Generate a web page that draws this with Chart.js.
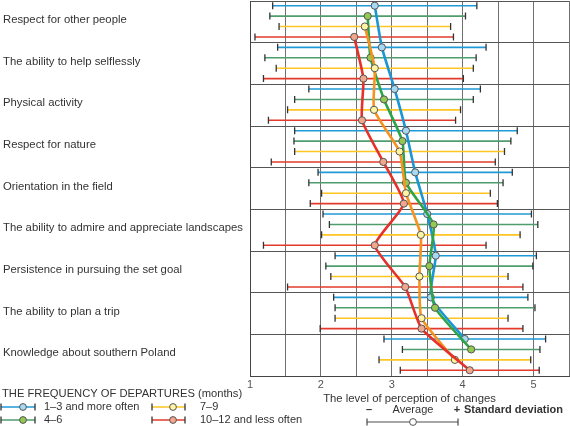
<!DOCTYPE html>
<html>
<head>
<meta charset="utf-8">
<script src="https://cdn.jsdelivr.net/npm/chart.js@4.4.0/dist/chart.umd.min.js"></script>
<style>
html,body{margin:0;padding:0;background:#fff;}
#wrap{width:570px;height:426px;position:relative;}
</style>
</head>
<body>
<div id="wrap"><canvas id="c" width="570" height="426"></canvas></div>
<script>
const categories = [
  "Respect for other people",
  "The ability to help selflessly",
  "Physical activity",
  "Respect for nature",
  "Orientation in the field",
  "The ability to admire and appreciate landscapes",
  "Persistence in pursuing the set goal",
  "The ability to plan a trip",
  "Knowledge about southern Poland"
];
const seriesNames = ["1–3 and more often", "4–6", "7–9", "10–12 and less often"];
const meanBlue   = [2.76, 2.86, 3.04, 3.20, 3.33, 3.50, 3.62, 3.55, 4.03];
const sdBlue     = [1.44, 1.47, 1.21, 1.57, 1.37, 1.47, 1.42, 1.37, 1.14];
const meanGreen  = [2.66, 2.70, 2.89, 3.15, 3.20, 3.59, 3.53, 3.61, 4.12];
const sdGreen    = [1.38, 1.49, 1.26, 1.53, 1.37, 1.47, 1.46, 1.41, 0.97];
const meanYellow = [2.62, 2.76, 2.75, 3.11, 3.20, 3.41, 3.39, 3.42, 3.89];
const sdYellow   = [1.21, 1.39, 1.22, 1.48, 1.19, 1.40, 1.25, 1.22, 1.07];
const meanRed    = [2.47, 2.60, 2.58, 2.88, 3.17, 2.76, 3.19, 3.42, 4.10];
const sdRed      = [1.40, 1.41, 1.32, 1.58, 1.32, 1.57, 1.66, 1.43, 0.98];
const xTickValues = [1, 2, 3, 4, 5];

const FONT = "'Liberation Sans', Arial, sans-serif";
const styles = [
  {bar:'#1e9ad6', line:'#1a96d4', fill:'#a8d9f3'},
  {bar:'#4f9c6c', line:'#2ea449', fill:'#93c853'},
  {bar:'#ffc522', line:'#f7921e', fill:'#fff4a3'},
  {bar:'#e23b2c', line:'#e6302a', fill:'#f2a68b'}
];
const means = [meanBlue, meanGreen, meanYellow, meanRed];
const sds = [sdBlue, sdGreen, sdYellow, sdRed];
const rowOf = (i, j) => i * 4 + j + 0.45;

const datasets = means.map((m, j) => ({
  label: seriesNames[j],
  data: m.map((v, i) => ({x: v, y: rowOf(i, j)})),
  borderColor: styles[j].line,
  borderWidth: 2.6,
  backgroundColor: styles[j].fill,
  pointBackgroundColor: styles[j].fill,
  pointBorderColor: '#555',
  pointBorderWidth: 1,
  pointRadius: 3.6,
  tension: 0.15,
  fill: false,
  clip: 6,
  order: 3 - j
}));

const errorBars = {
  id: 'errorBars',
  beforeDatasetsDraw(chart) {
    const ctx = chart.ctx, xs = chart.scales.x, ys = chart.scales.y;
    ctx.save();
    means.forEach((m, j) => {
      m.forEach((v, i) => {
        const y = ys.getPixelForValue(rowOf(i, j));
        const x1 = xs.getPixelForValue(v - sds[j][i]);
        const x2 = xs.getPixelForValue(v + sds[j][i]);
        ctx.strokeStyle = styles[j].bar;
        ctx.lineWidth = 1.6;
        ctx.beginPath(); ctx.moveTo(x1, y); ctx.lineTo(x2, y); ctx.stroke();
        ctx.strokeStyle = '#333';
        ctx.lineWidth = 1.3;
        ctx.beginPath();
        ctx.moveTo(x1, y - 3.5); ctx.lineTo(x1, y + 3.5);
        ctx.moveTo(x2, y - 3.5); ctx.lineTo(x2, y + 3.5);
        ctx.stroke();
      });
    });
    ctx.restore();
  }
};

function drawMarker(ctx, x1, x2, xc, y, bar, fill, cap) {
  ctx.strokeStyle = bar; ctx.lineWidth = 1.6;
  ctx.beginPath(); ctx.moveTo(x1, y); ctx.lineTo(x2, y); ctx.stroke();
  ctx.strokeStyle = cap; ctx.lineWidth = 1.3;
  ctx.beginPath();
  ctx.moveTo(x1, y - 3.5); ctx.lineTo(x1, y + 3.5);
  ctx.moveTo(x2, y - 3.5); ctx.lineTo(x2, y + 3.5);
  ctx.stroke();
  ctx.fillStyle = fill; ctx.strokeStyle = '#555'; ctx.lineWidth = 1;
  ctx.beginPath(); ctx.arc(xc, y, 3.4, 0, Math.PI * 2); ctx.fill(); ctx.stroke();
}

const legendPlugin = {
  id: 'customLegend',
  afterDraw(chart) {
    const ctx = chart.ctx;
    ctx.save();
    ctx.textBaseline = 'middle';
    ctx.textAlign = 'left';
    ctx.fillStyle = '#333';
    ctx.font = '11.2px ' + FONT;
    ctx.fillText('THE FREQUENCY OF DEPARTURES (months)', 2, 394);
    const pos = [
      {x1:1, x2:35, xc:23, tx:44, y:407},
      {x1:1, x2:35, xc:23, tx:44, y:420},
      {x1:152, x2:185, xc:173, tx:200, y:407},
      {x1:152, x2:185, xc:173, tx:200, y:420}
    ];
    pos.forEach((p, j) => {
      drawMarker(ctx, p.x1, p.x2, p.xc, p.y, styles[j].bar, styles[j].fill, '#333');
      ctx.fillStyle = '#333';
      ctx.font = '11px ' + FONT;
      ctx.fillText(seriesNames[j], p.tx, p.y);
    });
    // standard deviation key
    ctx.fillStyle = '#333';
    ctx.font = 'bold 11px ' + FONT;
    ctx.textAlign = 'center';
    ctx.fillText('–', 369, 410);
    ctx.fillText('+', 457, 410);
    ctx.textAlign = 'left';
    ctx.fillText('Standard deviation', 464, 410);
    ctx.font = '11px ' + FONT;
    ctx.textAlign = 'center';
    ctx.fillText('Average', 413, 410);
    drawMarker(ctx, 367, 458, 413, 422, '#888', '#fff', '#555');
    ctx.restore();
  }
};

new Chart(document.getElementById('c'), {
  type: 'line',
  data: { datasets },
  options: {
    responsive: false,
    animation: false,
    events: [],
    layout: { autoPadding: false, padding: { top: 1, right: 1, left: 3, bottom: 20 } },
    plugins: { legend: { display: false }, tooltip: { enabled: false } },
    scales: {
      x: {
        type: 'linear',
        min: 1, max: 5.5,
        afterBuildTicks: (axis) => {
          const t = [];
          for (let v = 1; v <= 5.5 + 1e-9; v += 0.5) t.push({value: Math.round(v * 10) / 10});
          axis.ticks = t;
        },
        afterFit: (s) => { s.height = 30; s.paddingLeft = 0; s.paddingRight = 0; },
        grid: { color: '#707070', lineWidth: 1, drawTicks: false },
        border: { color: '#444', width: 1 },
        ticks: {
          padding: 2,
          color: '#555',
          font: { family: FONT, size: 11 },
          callback: (v) => xTickValues.includes(v) ? String(v) : ''
        },
        title: {
          display: true,
          text: 'The level of perception of changes',
          color: '#333',
          font: { family: FONT, size: 11.3 },
          padding: { top: 0, bottom: 0 }
        }
      },
      y: {
        type: 'linear',
        min: 0, max: 36,
        reverse: true,
        afterBuildTicks: (axis) => {
          const t = [];
          for (let i = 0; i <= 9; i++) {
            t.push({value: i * 4});
            if (i < 9) t.push({value: i * 4 + 1.8});
          }
          axis.ticks = t;
        },
        afterFit: (s) => { s.width = 247; s.paddingTop = 0; s.paddingBottom = 0; },
        grid: {
          drawTicks: false,
          color: (c) => (c.tick && Math.abs(c.tick.value % 4) < 1e-6) ? '#555' : 'rgba(0,0,0,0)',
          lineWidth: 1
        },
        border: { color: '#444', width: 1 },
        ticks: {
          crossAlign: 'far',
          padding: 0,
          color: '#333',
          font: { family: FONT, size: 11.3 },
          autoSkip: false,
          callback: (v) => (Math.abs(v % 4) < 1e-6) ? '' : categories[Math.round((v - 1.8) / 4)]
        }
      }
    }
  },
  plugins: [errorBars, legendPlugin]
});
</script>
</body>
</html>
